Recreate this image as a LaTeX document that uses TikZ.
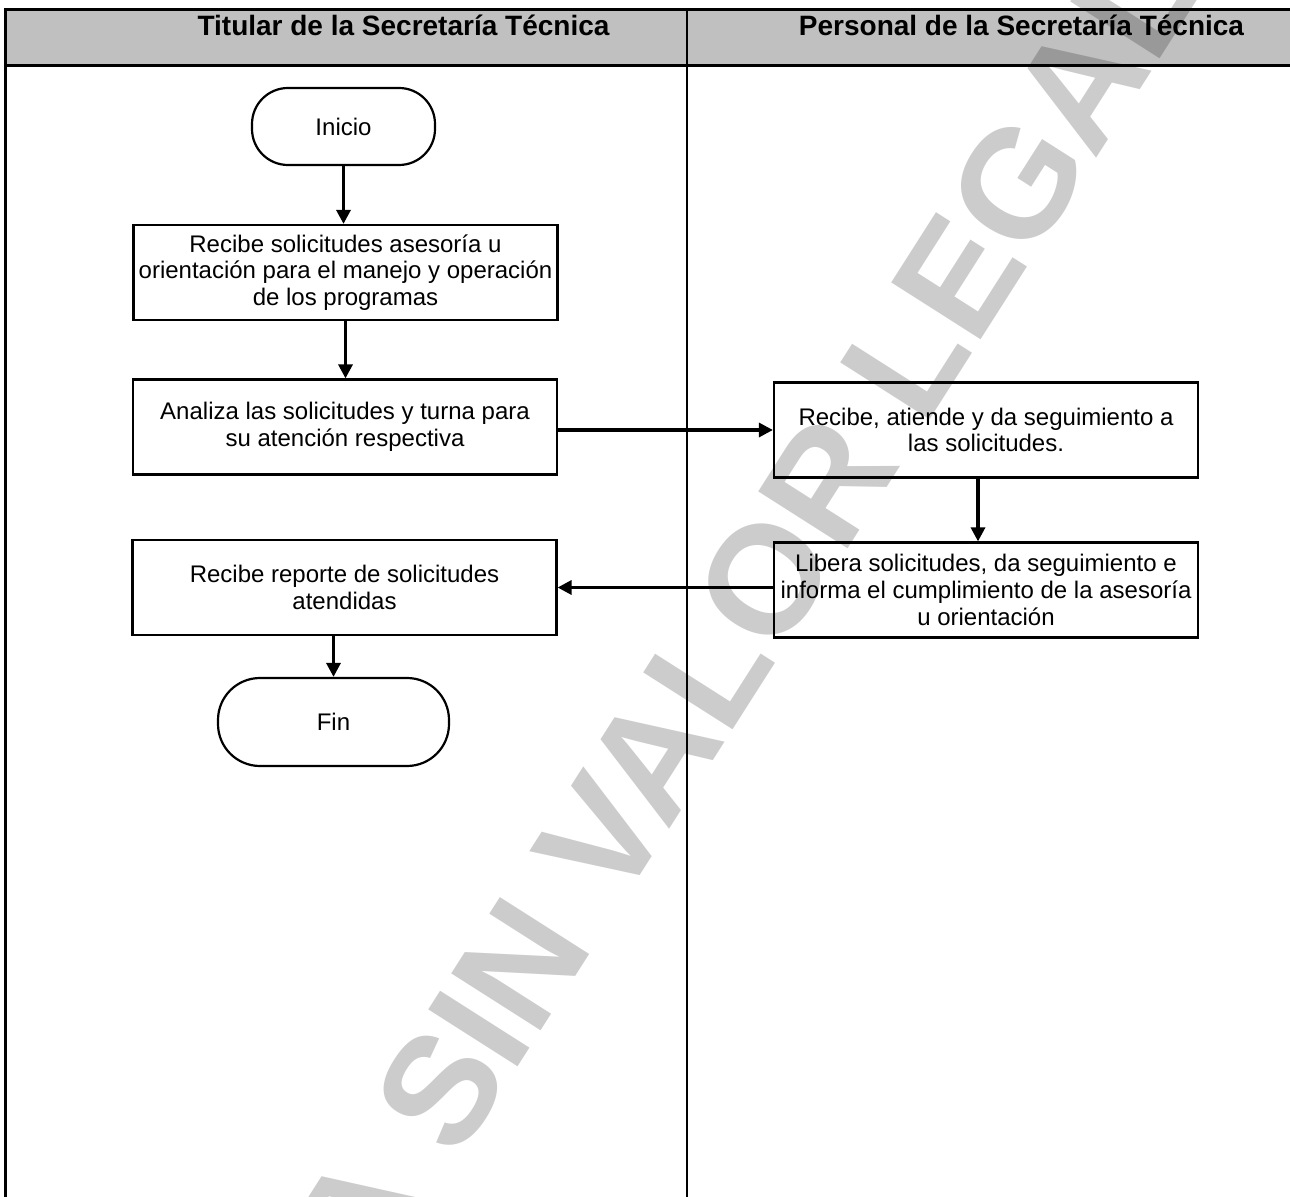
\documentclass[tikz,border=0pt]{standalone}
\usepackage{fontspec}
\setmainfont{Liberation Sans}
\usetikzlibrary{arrows.meta}
\definecolor{hdrgray}{RGB}{192,192,192}
\begin{document}
\begin{tikzpicture}[x=0.5pt,y=-0.5pt,
  every node/.style={font=\fontsize{12}{13.4}\selectfont},
  proc/.style={draw,line width=1.1pt,minimum width=212pt,minimum height=47.5pt,inner sep=0pt,align=center},
  term/.style={draw,line width=1.1pt,inner sep=0pt},
  arr/.style={line width=1.6pt,-{Triangle[length=7pt,width=7pt]}},
  lane/.style={font=\fontsize{14}{16}\selectfont\bfseries,inner sep=0pt},
  wmark/.style={font=\fontsize{77}{77}\selectfont\bfseries,text=black,text opacity=0.2,inner sep=0pt},
]
\useasboundingbox (0,0) rectangle (1290,1197);
\begin{scope}
\clip (0,0) rectangle (1290,1197);

% swimlane frame and header band
\fill[hdrgray] (5,10) rectangle (1296,66);
\draw[line width=1.5pt] (1296,10) -- (5,10) -- (5,1210);
\draw[line width=1.5pt] (5,66) -- (1296,66);
\draw[line width=1pt] (687,10) -- (687,1210);

\node[lane,anchor=base] (laneA) at (403.5,36) {Titular de la Secretaría Técnica};
\node[lane,anchor=base] (laneB) at (1021.5,36) {Personal de la Secretaría Técnica};

% process steps
\node[term,minimum width=91.5pt,minimum height=38.5pt,rounded corners=18pt] (inicio) at (343.5,126.5) {Inicio};
\node[proc] (b1) at (345.5,272.5) {Recibe solicitudes asesoría u\\orientación para el manejo y operación\\de los programas};
\node[proc] (b2) at (345,427) {Analiza las solicitudes y turna para\\su atención respectiva};
\node[proc] (b3) at (344.5,587.5) {Recibe reporte de solicitudes\\atendidas};
\node[term,minimum width=115.5pt,minimum height=44pt,rounded corners=21pt] (fin) at (333.5,722) {Fin};
\node[proc] (b4) at (986,430) {Recibe, atiende y da seguimiento a\\las solicitudes.};
\node[proc] (b5) at (986,590) {Libera solicitudes, da seguimiento e\\informa el cumplimiento de la asesoría\\u orientación};

% connectors
\draw[arr] (inicio.south) -- (inicio.south |- b1.north);
\draw[arr] (b1.south) -- (b1.south |- b2.north);
\draw[arr] (b4.west -| b2.east) -- (b4.west);
\draw[arr] ([xshift=-4pt]b4.south) -- ([xshift=-4pt]b5.north);
\draw[arr] (b5.west |- b3.east) -- (b3.east);
\draw[arr] (fin.north |- b3.south) -- (fin.north);

% watermark
\node[wmark,rotate=57.5] (wm) at (644,770) {COPIA SIN VALOR LEGAL};
\end{scope}
\end{tikzpicture}
\end{document}
